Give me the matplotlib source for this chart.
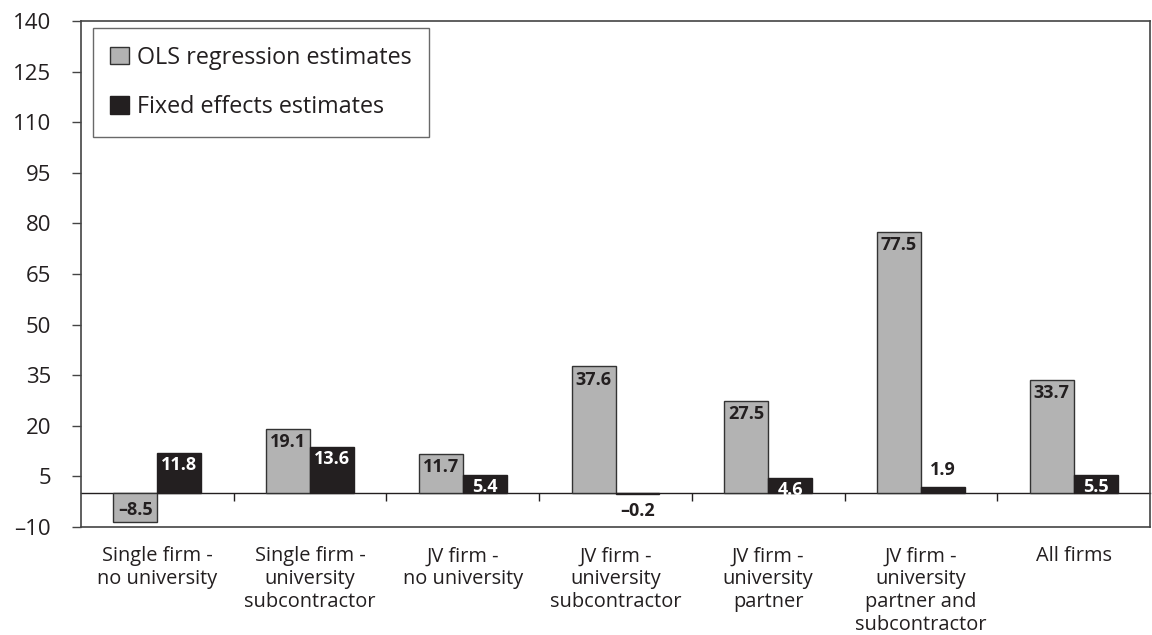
import matplotlib
matplotlib.use("Agg")
import matplotlib.pyplot as plt
import numpy as np

categories = [
    "Single firm -\nno university",
    "Single firm -\nuniversity\nsubcontractor",
    "JV firm -\nno university",
    "JV firm -\nuniversity\nsubcontractor",
    "JV firm -\nuniversity\npartner",
    "JV firm -\nuniversity\npartner and\nsubcontractor",
    "All firms",
]
ols = [-8.5, 19.1, 11.7, 37.6, 27.5, 77.5, 33.7]
fixed = [11.8, 13.6, 5.4, -0.2, 4.6, 1.9, 5.5]
series_names = ["OLS regression estimates", "Fixed effects estimates"]
yticks = [-10, 5, 20, 35, 50, 65, 80, 95, 110, 125, 140]

plt.rcParams["font.family"] = ["Open Sans", "DejaVu Sans"]
GRAY = "#b3b3b3"
BLACK = "#231f20"
EDGE = "#333333"

fig = plt.figure(figsize=(11.52, 6.35), dpi=100)
ax = fig.add_axes([0.0703, 0.170, 0.9280, 0.797])

x = np.arange(len(categories))
w = 0.288
b1 = ax.bar(x - w / 2, ols, w, color=GRAY, edgecolor=EDGE, linewidth=1.0,
            label=series_names[0], zorder=3)
b2 = ax.bar(x + w / 2, fixed, w, color=BLACK, edgecolor=BLACK, linewidth=1.0,
            label=series_names[1], zorder=3)

def fmt(v):
    s = f"{abs(v):.1f}"
    return ("\u2013" + s) if v < 0 else s

LBL = 13
for rect, v in zip(b1, ols):
    cx = rect.get_x() + rect.get_width() / 2
    if v >= 0:
        ax.annotate(fmt(v), (cx, v), xytext=(0, -3), textcoords="offset points",
                    ha="center", va="top", fontsize=LBL, fontweight="bold",
                    color=BLACK, zorder=4)
    else:
        ax.annotate(fmt(v), (cx, v), xytext=(0, 2), textcoords="offset points",
                    ha="center", va="bottom", fontsize=LBL, fontweight="bold",
                    color=BLACK, zorder=4)

for rect, v in zip(b2, fixed):
    cx = rect.get_x() + rect.get_width() / 2
    if v >= 4:
        ax.annotate(fmt(v), (cx, v), xytext=(0, -2), textcoords="offset points",
                    ha="center", va="top", fontsize=LBL, fontweight="bold",
                    color="white", zorder=4)
    elif v >= 0:
        ax.annotate(fmt(v), (cx, v), xytext=(0, 6), textcoords="offset points",
                    ha="center", va="bottom", fontsize=LBL, fontweight="bold",
                    color=BLACK, zorder=4)
    else:
        ax.annotate(fmt(v), (cx, v), xytext=(0, -6), textcoords="offset points",
                    ha="center", va="top", fontsize=LBL, fontweight="bold",
                    color=BLACK, zorder=4)

ax.set_xlim(-0.5, len(categories) - 0.5)
ax.set_ylim(yticks[0], yticks[-1])
ax.set_yticks(yticks)
ax.set_yticklabels([("\u2013" + str(abs(t))) if t < 0 else str(t) for t in yticks],
                   fontsize=16, color=BLACK)
ax.tick_params(axis="y", direction="out", length=6.5, width=1, color="#444444", pad=15)

ax.set_xticks(x)
ax.set_xticklabels(categories, fontsize=14.4, color=BLACK, linespacing=1.2, va="top")
ax.tick_params(axis="x", length=0, pad=14)

for s in ax.spines.values():
    s.set_color("#444444")
    s.set_linewidth(1.2)

# zero axis with category-boundary ticks
zero_frac = (0 - yticks[0]) / (yticks[-1] - yticks[0])
sec = ax.secondary_xaxis(zero_frac)
sec.set_xticks(np.arange(len(categories) - 1) + 0.5)
sec.set_xticklabels([])
sec.tick_params(axis="x", direction="out", length=6, width=1, color=BLACK)
sec.spines["bottom"].set_color(BLACK)
sec.spines["bottom"].set_linewidth(1.0)

leg = ax.legend(loc="upper left", bbox_to_anchor=(0.0112, 0.986), fontsize=16.8,
                frameon=True, fancybox=False, edgecolor="#444444",
                handlelength=0.8, handleheight=0.8, handletextpad=0.35,
                labelspacing=1.1, borderpad=0.75, borderaxespad=0)
leg.get_frame().set_linewidth(1.0)
for t in leg.get_texts():
    t.set_color(BLACK)

fig.savefig("out.png", dpi=100)
